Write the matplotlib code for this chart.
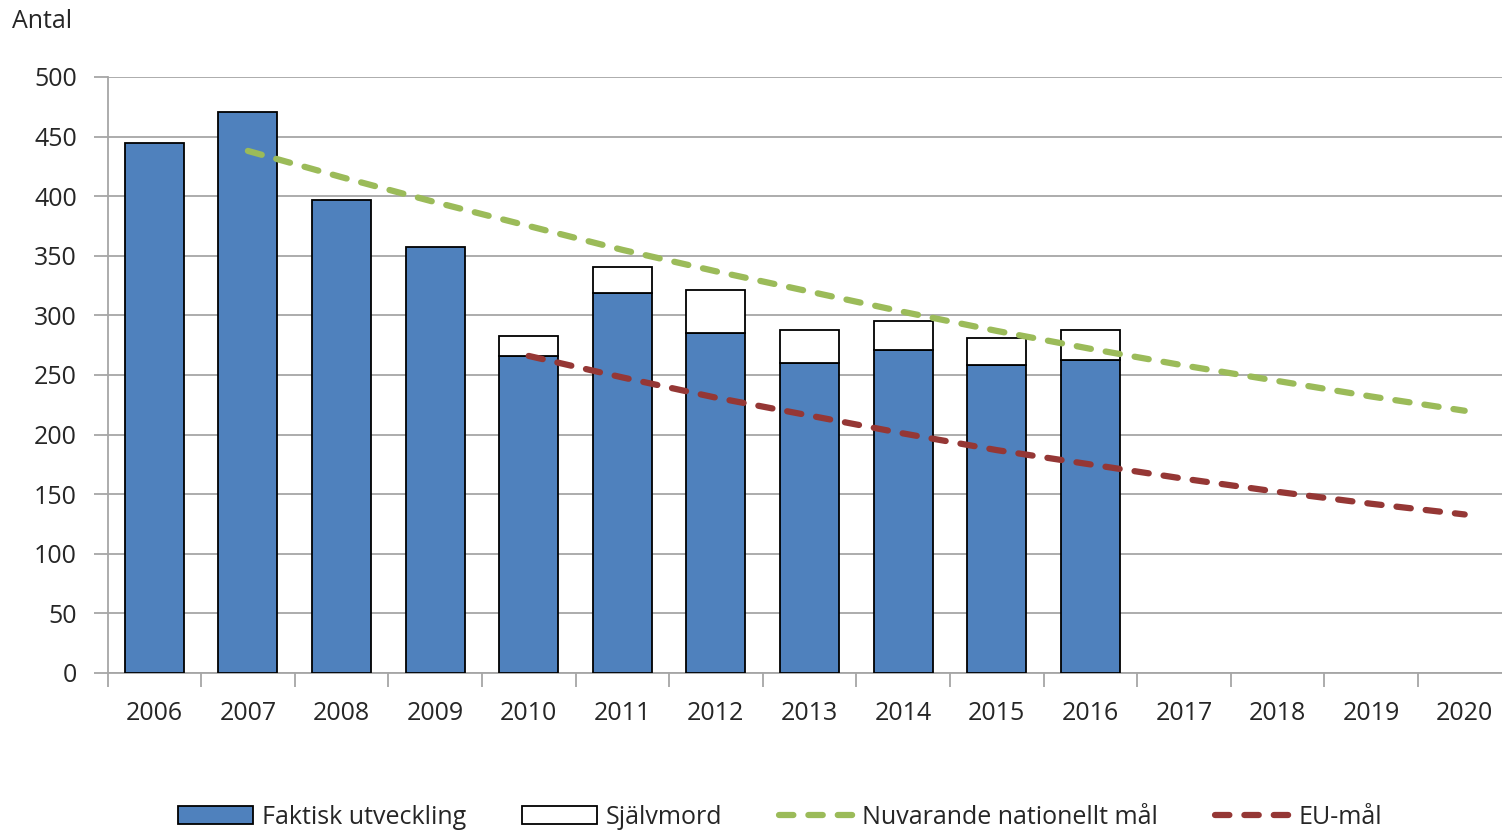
import matplotlib
matplotlib.use("Agg")
import matplotlib.pyplot as plt
from matplotlib.patches import Patch
from matplotlib.lines import Line2D

years = ["2006", "2007", "2008", "2009", "2010", "2011", "2012",
         "2013", "2014", "2015", "2016", "2017", "2018", "2019", "2020"]

# bars (2006-2016)
faktisk = [445, 471, 397, 357, 266, 319, 285, 260, 271, 258, 263]
sjalvmord = [0, 0, 0, 0, 17, 22, 36, 28, 24, 23, 25]

# target lines
nat_years = years[1:]
nat_goal = [438, 416, 395, 375, 355, 337, 320, 303, 287, 272, 258, 245, 232, 220]
eu_years = years[4:]
eu_goal = [266, 248, 231, 216, 201, 187, 175, 163, 152, 142, 133]

blue = "#4f81bd"
green = "#9bbb59"
red = "#953735"
grid_c = "#a6a6a6"
txt_c = "#262626"
fs = 18

plt.rcParams["font.family"] = ["Open Sans", "DejaVu Sans"]

fig = plt.figure(figsize=(15.02, 8.33), dpi=100)
step = 93.6
ax = fig.add_axes([107.5 / 1502, 1 - 673 / 833, 15 * step / 1502, (673 - 77) / 833])

idx = {y: i for i, y in enumerate(years)}
xb = [idx[y] for y in years[:len(faktisk)]]
w = 0.63
ax.bar(xb, faktisk, width=w, color=blue, edgecolor="black", linewidth=1.3, zorder=3)
ax.bar([x for x, s in zip(xb, sjalvmord) if s > 0],
       [s for s in sjalvmord if s > 0],
       bottom=[f for f, s in zip(faktisk, sjalvmord) if s > 0],
       width=w, color="white", edgecolor="black", linewidth=1.3, zorder=3)

dash = (0, (2.3, 2.4))
ax.plot([idx[y] for y in nat_years], nat_goal, color=green, lw=4.5,
        linestyle=dash, dash_capstyle="round", zorder=4)
ax.plot([idx[y] for y in eu_years], eu_goal, color=red, lw=4.5,
        linestyle=dash, dash_capstyle="round", zorder=4)

ax.set_xlim(-0.5, len(years) - 0.5)
ax.set_ylim(0, 500)
ax.set_yticks(range(0, 501, 50))
ax.yaxis.grid(True, color=grid_c, lw=1.3, zorder=0)
ax.set_xticks(range(len(years)))
ax.set_xticklabels(years)
ax.set_xticks([i - 0.5 for i in range(len(years) + 1)], minor=True)
ax.tick_params(axis="x", which="major", length=0, pad=20, labelsize=fs, labelcolor=txt_c)
ax.tick_params(axis="x", which="minor", length=10, color=grid_c, width=1.3)
ax.tick_params(axis="y", length=10, color=grid_c, width=1.3, pad=12, labelsize=fs,
               labelcolor=txt_c)
for s in ["top", "right"]:
    ax.spines[s].set_visible(False)
for s in ["left", "bottom"]:
    ax.spines[s].set_color(grid_c)
    ax.spines[s].set_linewidth(1.3)

fig.text(12 / 1502, 1 - 22 / 833, "Antal", fontsize=fs, color=txt_c, va="center")

handles = [
    Patch(facecolor=blue, edgecolor="black", linewidth=1.3),
    Patch(facecolor="white", edgecolor="black", linewidth=1.3),
    Line2D([], [], color=green, lw=4.5, linestyle=dash, dash_capstyle="round"),
    Line2D([], [], color=red, lw=4.5, linestyle=dash, dash_capstyle="round"),
]
labels = ["Faktisk utveckling", "Självmord", "Nuvarande nationellt mål", "EU-mål"]
fig.legend(handles, labels, loc="center", bbox_to_anchor=(780 / 1502, 1 - 817 / 833),
           ncol=4, frameon=False, fontsize=fs, handlelength=3.0, handleheight=0.7,
           handletextpad=0.35, columnspacing=2.25, labelcolor=txt_c)

fig.savefig("out.png", dpi=100)
